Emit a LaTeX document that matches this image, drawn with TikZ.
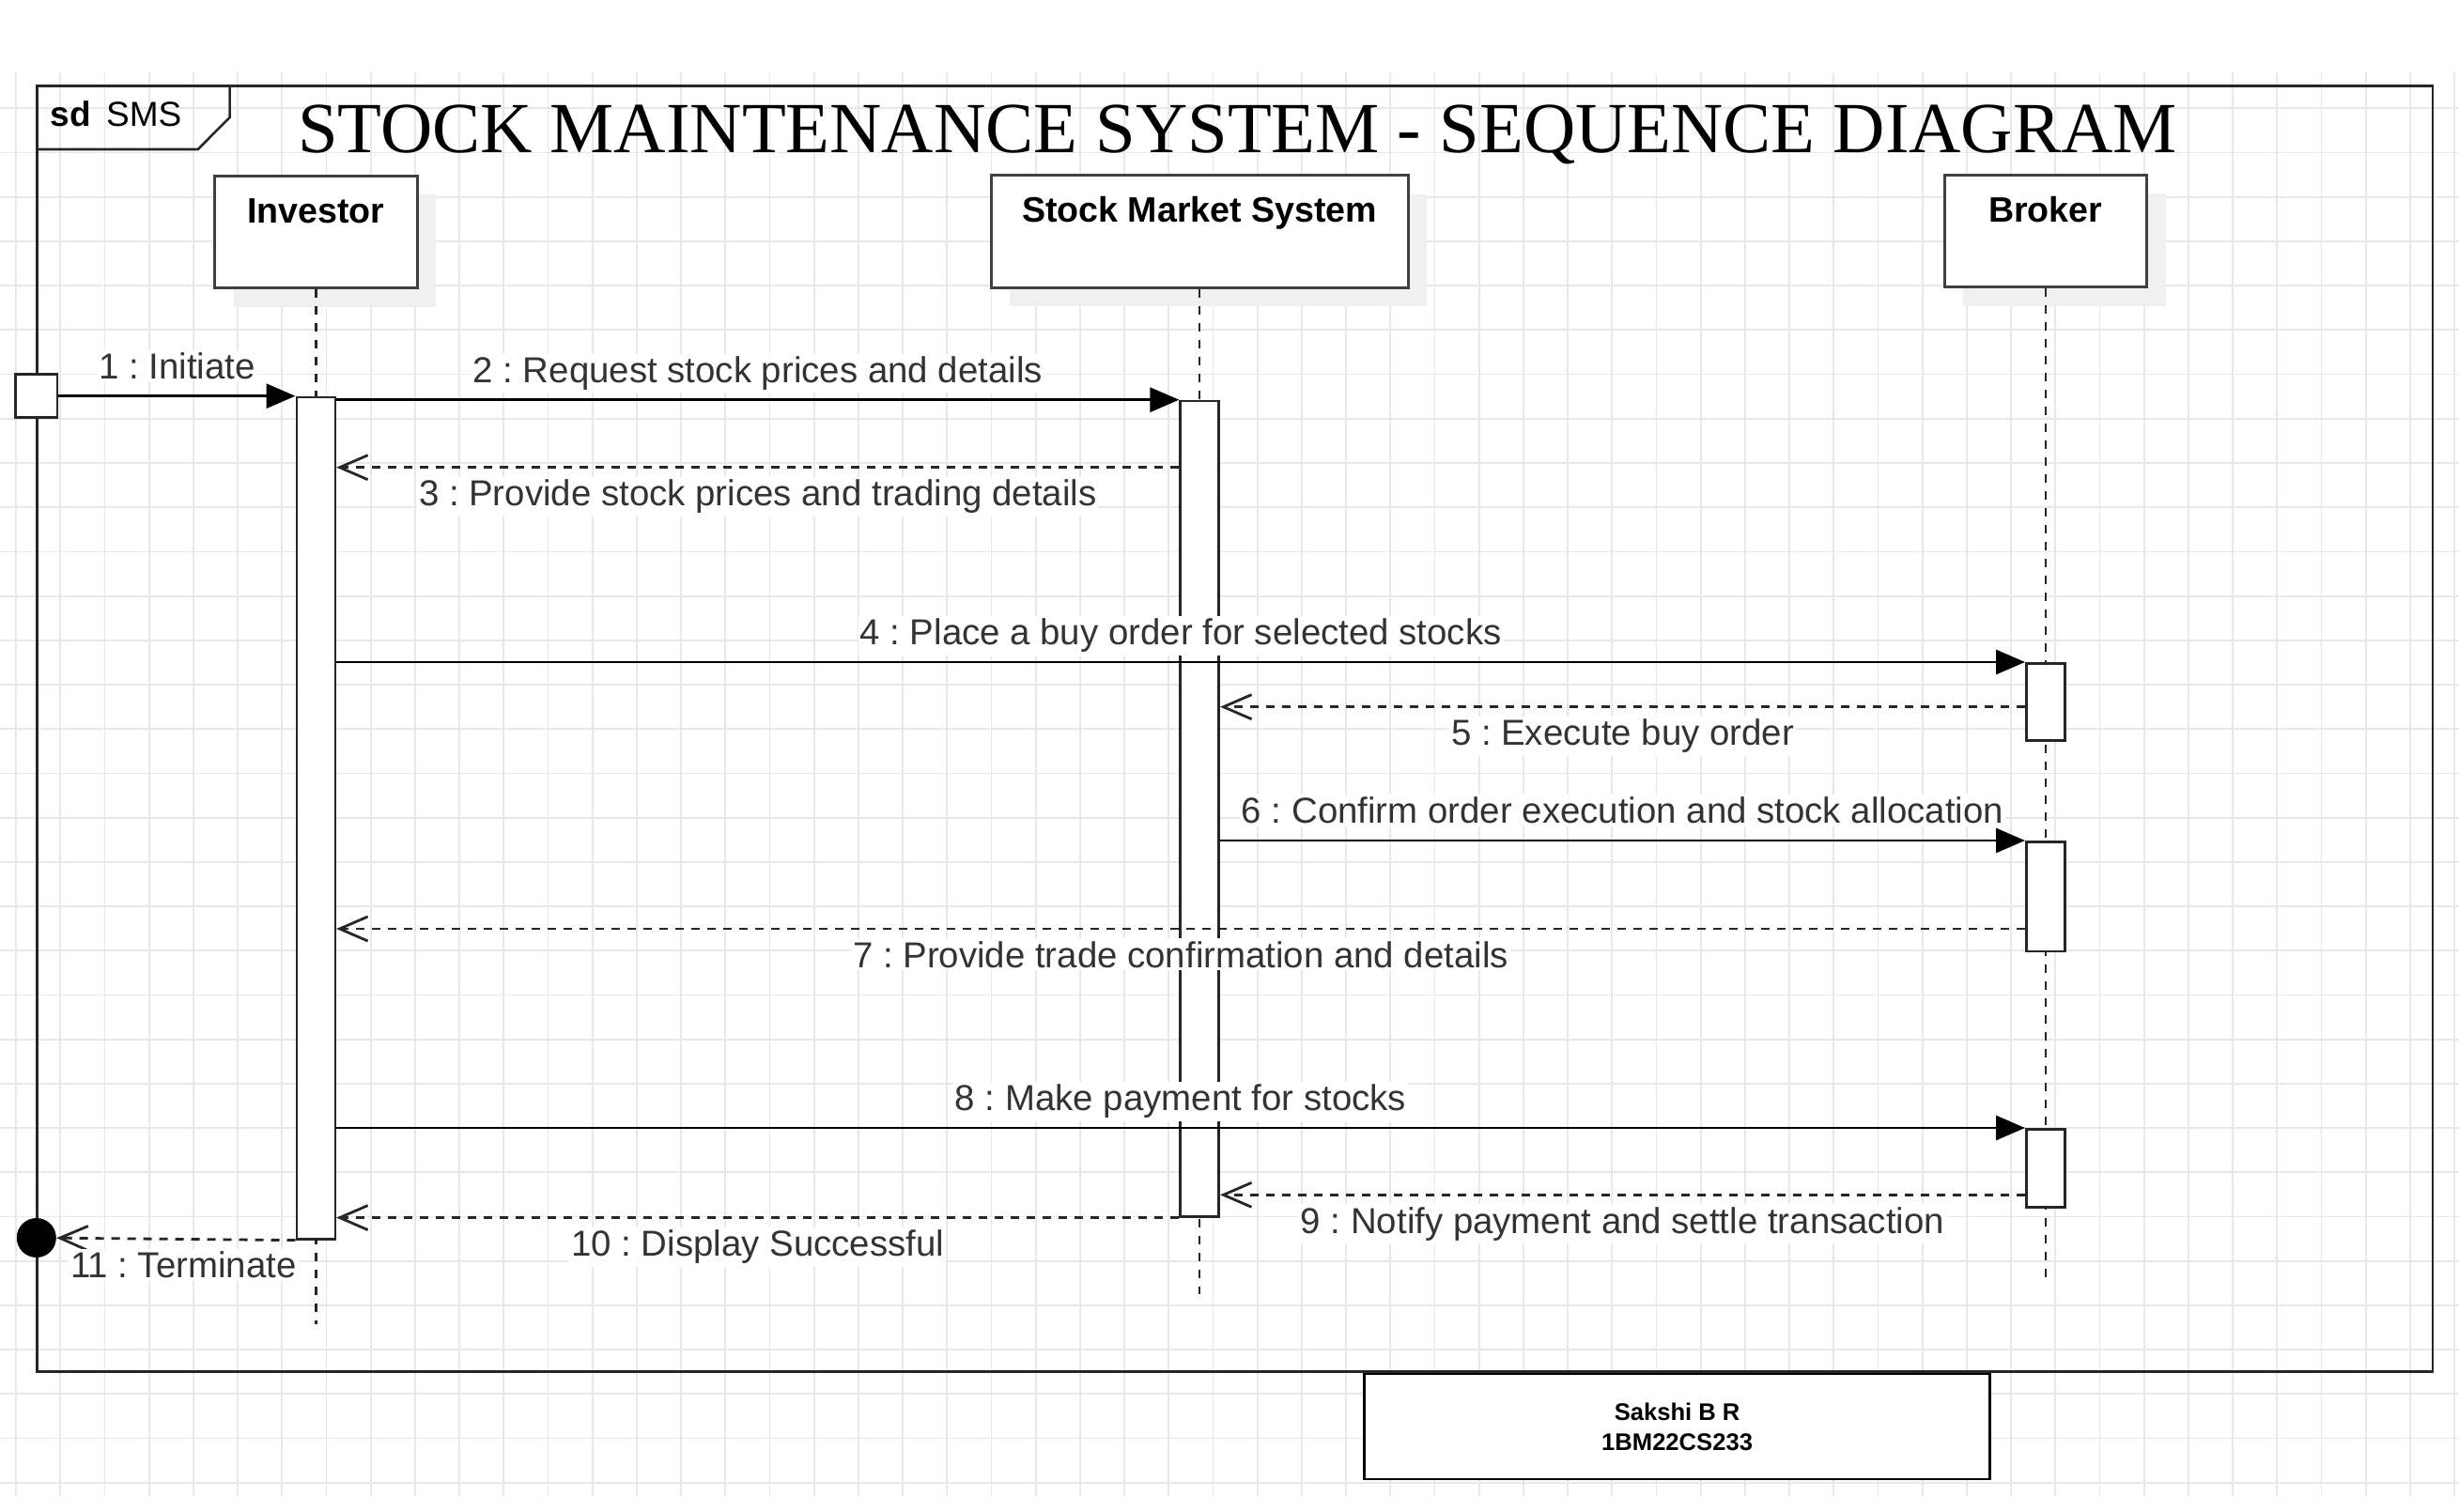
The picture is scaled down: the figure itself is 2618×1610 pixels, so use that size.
\documentclass[tikz,border=0pt]{standalone}
\usepackage{fontspec}
\setmainfont{Liberation Sans}
\newfontfamily\titlefont{Liberation Serif}
\usepackage{tikz}
\usetikzlibrary{arrows.meta, calc, shadows}
\frenchspacing

\begin{document}
\begin{tikzpicture}[
    x=0.5pt, y=-0.5pt,
    >={Triangle[length=15.5pt, width=13pt]},
    gridline/.style={draw=black!9, line width=0.9pt},
    frame/.style={draw=black!85, line width=1.3pt},
    participant/.style={rectangle, draw=black!75, fill=white, line width=1.5pt, anchor=north, minimum height=59.7pt, inner sep=0pt, text height=13pt, text depth=22.7pt, font=\fontsize{18.8}{22}\selectfont\bfseries, general shadow={fill=black!6, shadow xshift=10pt, shadow yshift=-10pt}},
    lifeline/.style={draw=black!85, line width=1.25pt, dash pattern=on 4.5pt off 4.5pt},
    activation/.style={rectangle, draw=black!85, fill=white, line width=1.3pt, anchor=north, minimum width=20.5pt, inner sep=0pt},
    call/.style={->, draw=black, line width=1.4pt},
    reply/.style={-{Straight Barb[length=15pt, width=13pt]}, draw=black!85, line width=1.4pt, dash pattern=on 4.5pt off 4pt},
    msglabel/.style={fill=white, text=black!80, inner xsep=1pt, inner ysep=1.5pt, anchor=base, font=\fontsize{19.2}{23}\selectfont},
    above msg/.style={msglabel, midway, yshift=9.15pt},
    below msg/.style={msglabel, midway, yshift=-20.5pt}
]

% 背景与网格
\fill[white] (0,0) rectangle (2618,1610);
\useasboundingbox (0,0) rectangle (2618,1610);
\foreach \i in {0,...,55}
    \draw[gridline] ({17+47.2*\i},77) -- ({17+47.2*\i},1593);
\foreach \j in {2,...,33}
    \draw[gridline] (0,{21+47.2*\j}) -- (2618,{21+47.2*\j});

% 外框与标题
\draw[frame] (39.3,91.7) rectangle (2590,1460.7);
\draw[frame] (39.3,159) -- (210.7,159) -- (244.6,125) -- (244.6,91.7);
\node[anchor=base west, inner sep=0pt, font=\fontsize{18.5}{22}\selectfont] (frame_tag) at (53.6,135) {\textbf{sd}\hspace{8pt}SMS};
\node[anchor=base, font=\titlefont\fontsize{38.3}{44}\selectfont] (title) at (1317.5,163) {STOCK MAINTENANCE SYSTEM - SEQUENCE DIAGRAM};

% 参与者
\node[participant, minimum width=107.7pt] (investor) at (336.3,185.7) {Investor};
\node[participant, minimum width=222pt] (sms) at (1277.2,185.5) {Stock Market System};
\node[participant, minimum width=107.8pt] (broker) at (2177.8,185) {Broker};

% 生命线
\coordinate (investor_end) at (336.3,1410);
\coordinate (sms_end) at (1277.2,1378);
\coordinate (broker_end) at (2177.8,1362);
\draw[lifeline] (investor.south) -- (investor_end);
\draw[lifeline] (sms.south) -- (sms_end);
\draw[lifeline] (broker.south) -- (broker_end);

% 激活条
\node[activation, minimum height=448.15pt] (inv_act) at (336.3,421.7) {};
\node[activation, minimum height=434.15pt] (sms_act) at (1277.2,425.7) {};
\node[activation, minimum height=41pt] (brk_act1) at (2177.8,705) {};
\node[activation, minimum height=58.35pt] (brk_act2) at (2177.8,895) {};
\node[activation, minimum height=41.5pt] (brk_act3) at (2177.8,1201) {};

% 起点与终点
\node[draw=black!85, fill=white, line width=1.3pt, minimum width=22.35pt, minimum height=23pt, inner sep=0pt] (start) at (38.8,421.7) {};
\node[circle, fill=black, minimum size=21pt, inner sep=0pt] (stop) at (38.8,1318) {};

% 消息行
\coordinate (r3) at (0,497.7);
\coordinate (r5) at (0,752.7);
\coordinate (r7) at (0,989);
\coordinate (r9) at (0,1272.3);

% 消息
\draw[call] (start) -- (inv_act.north west) node[above msg] {1 : Initiate};
\draw[call] (inv_act.east |- sms_act.north) -- (sms_act.north west) node[above msg] {2 : Request stock prices and details};
\draw[reply] (sms_act.west |- r3) -- (inv_act.east |- r3) node[below msg] {3 : Provide stock prices and trading details};
\draw[call] (inv_act.east |- brk_act1.north) -- (brk_act1.north west) node[above msg] {4 : Place a buy order for selected stocks};
\draw[reply] (brk_act1.west |- r5) -- (sms_act.east |- r5) node[below msg] {5 : Execute buy order};
\draw[call] (sms_act.east |- brk_act2.north) -- (brk_act2.north west) node[above msg] {6 : Confirm order execution and stock allocation};
\draw[reply] (brk_act2.west |- r7) -- (inv_act.east |- r7) node[below msg] {7 : Provide trade confirmation and details};
\draw[call] (inv_act.east |- brk_act3.north) -- (brk_act3.north west) node[above msg] {8 : Make payment for stocks};
\draw[reply] (brk_act3.west |- r9) -- (sms_act.east |- r9) node[below msg] {9 : Notify payment and settle transaction};
\draw[reply] (sms_act.south west) -- (inv_act.east |- sms_act.south) node[below msg] {10 : Display Successful};
\draw[reply] (inv_act.south west) -- (stop) node[below msg, xshift=4pt] {11 : Terminate};

% 作者信息
\node[draw=black, line width=1.3pt, fill=white, minimum width=333pt, minimum height=56pt, align=center, font=\fontsize{12.8}{16}\selectfont\bfseries] (author) at (1785.6,1519) {Sakshi B R\\1BM22CS233};

\end{tikzpicture}
\end{document}
